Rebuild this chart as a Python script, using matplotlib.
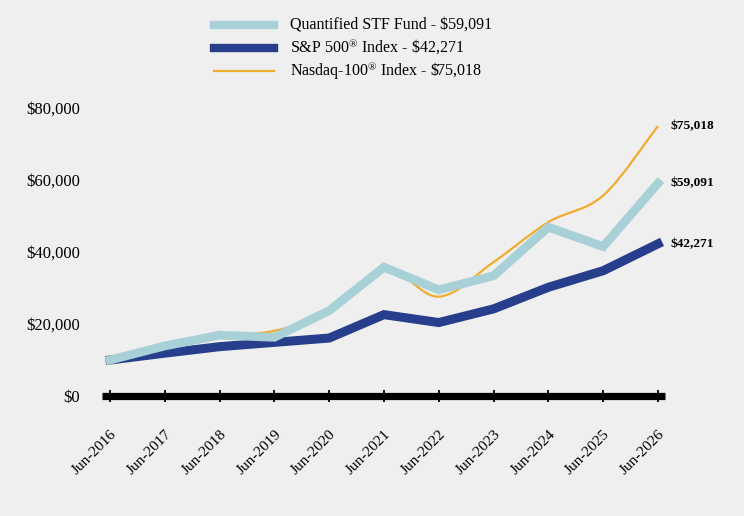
import numpy as np
import matplotlib
matplotlib.use("Agg")
import matplotlib.pyplot as plt
from matplotlib.lines import Line2D
from matplotlib.path import Path
from matplotlib.patches import PathPatch
from matplotlib.ticker import FuncFormatter

# data
years = ["Jun-2016", "Jun-2017", "Jun-2018", "Jun-2019", "Jun-2020", "Jun-2021",
         "Jun-2022", "Jun-2023", "Jun-2024", "Jun-2025", "Jun-2026"]
fund = [10000, 13900, 16900, 16300, 23700, 35800, 29500, 33400, 46900, 41500, 59091]
sp500 = [10000, 11900, 13700, 14900, 16100, 22600, 20400, 24200, 30200, 34800, 42271]
nasdaq = [10000, 14000, 16800, 18100, 23600, 35500, 27600, 37200, 48300, 55700, 75018]

labels = ["Quantified STF Fund - $59,091", "S&P 500$^{\u00ae}$ Index - \\$42,271",
          "Nasdaq-100$^{\u00ae}$ Index - \\$75,018"]

bg = "#efefef"
c_fund = "#a8d1d7"
c_sp = "#263e8b"
c_nq = "#f0ac2c"

plt.rcParams["font.family"] = ["Liberation Serif", "DejaVu Serif"]
plt.rcParams["mathtext.fontset"] = "custom"
plt.rcParams["mathtext.rm"] = "Liberation Serif"
plt.rcParams["mathtext.it"] = "Liberation Serif:italic"
plt.rcParams["mathtext.bf"] = "Liberation Serif:bold"
plt.rcParams["mathtext.default"] = "rm"

fig = plt.figure(figsize=(7.44, 5.16), dpi=100, facecolor=bg)
ax = fig.add_axes([102 / 744, 1 - 396 / 516, (665 - 102) / 744, (396 - 108) / 516])
ax.set_facecolor(bg)

x = np.arange(len(years))


def smooth_path(xs, ys):
    # cubic bezier through the points (catmull-rom style control points)
    pts = list(zip(xs, ys))
    verts = [pts[0]]
    codes = [Path.MOVETO]
    n = len(pts)
    for i in range(n - 1):
        p0 = pts[i - 1] if i > 0 else pts[i]
        p1 = pts[i]
        p2 = pts[i + 1]
        p3 = pts[i + 2] if i + 2 < n else pts[i + 1]
        c1 = (p1[0] + (p2[0] - p0[0]) / 6, p1[1] + (p2[1] - p0[1]) / 6)
        c2 = (p2[0] - (p3[0] - p1[0]) / 6, p2[1] - (p3[1] - p1[1]) / 6)
        verts += [c1, c2, p2]
        codes += [Path.CURVE4] * 3
    return Path(verts, codes)


ax.add_patch(PathPatch(smooth_path(x, nasdaq), facecolor="none", edgecolor=c_nq,
                       lw=1.6, zorder=2))
ax.plot(x, sp500, color=c_sp, lw=6.5, solid_joinstyle="miter", zorder=3)
ax.plot(x, fund, color=c_fund, lw=6.3, solid_joinstyle="miter", zorder=4)

for vals in [nasdaq, fund, sp500]:
    ax.text(x[-1] + 0.22, vals[-1], "${:,}".format(vals[-1]), fontsize=9.6,
            fontweight="bold", va="center", ha="left")

ax.set_xlim(-0.146, 10.128)
ax.set_ylim(0, 80000)
ax.set_yticks([0, 20000, 40000, 60000, 80000])
ax.yaxis.set_major_formatter(FuncFormatter(lambda v, p: "${:,.0f}".format(v)))
ax.set_xticks(x)
ax.set_xticklabels(years, rotation=45, ha="right", rotation_mode="anchor")

for s in ["top", "right", "left"]:
    ax.spines[s].set_visible(False)
ax.spines["bottom"].set_linewidth(5.2)
ax.spines["bottom"].set_capstyle("butt")
ax.tick_params(axis="y", length=0, pad=16, labelsize=12)
ax.tick_params(axis="x", length=8, width=1.3, pad=19, labelsize=11, direction="inout")

# legend
rows = [(25, c_fund, 6.0), (48, c_sp, 6.0), (71, c_nq, 1.6)]
for (py, col, lw), lab in zip(rows, labels):
    fy = 1 - py / 516
    fig.add_artist(Line2D([214 / 744, 274 / 744], [fy, fy], color=col, lw=lw))
    fig.text(290 / 744, 1 - (py + 5) / 516, lab, fontsize=11.5, va="baseline", ha="left")

plt.savefig("out.png", dpi=100, facecolor=bg)
